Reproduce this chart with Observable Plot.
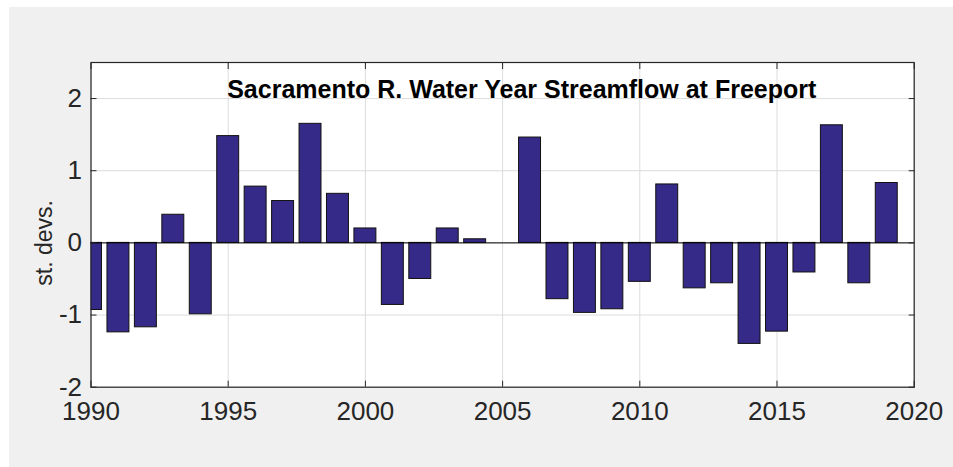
<!DOCTYPE html>
<html><head><meta charset="utf-8">
<script src="https://cdn.jsdelivr.net/npm/d3@7"></script>
<script src="https://cdn.jsdelivr.net/npm/@observablehq/plot@0.6"></script>
<style>
html,body{margin:0;padding:0;background:#fff;}
#bg{position:absolute;left:9px;top:7px;width:944px;height:460px;background:#f0f0f0;}
#chart{position:absolute;left:0;top:0;}
</style></head><body>
<div id="bg"></div><div id="chart"></div>
<script>
const years = [1990,1991,1992,1993,1994,1995,1996,1997,1998,1999,2000,2001,2002,2003,2004,2005,2006,2007,2008,2009,2010,2011,2012,2013,2014,2015,2016,2017,2018,2019];
const values = [-0.93,-1.24,-1.17,0.39,-0.99,1.48,0.78,0.58,1.65,0.68,0.20,-0.86,-0.50,0.20,0.05,0,1.46,-0.78,-0.97,-0.92,-0.54,0.81,-0.63,-0.56,-1.40,-1.23,-0.41,1.63,-0.56,0.83];
const xTicks = [1990,1995,2000,2005,2010,2015,2020];
const yTicks = [-2,-1,0,1,2];
const titleText = "Sacramento R. Water Year Streamflow at Freeport";
const yLabel = "st. devs.";

const data = years.map((y, i) => ({year: y, value: values[i]}));
const half = 0.4;
const fmt = d => String(d);
const empty = () => "";

const chart = Plot.plot({
  width: 953,
  height: 467,
  marginLeft: 90.5,
  marginRight: 39.3,
  marginTop: 62,
  marginBottom: 80.3,
  style: {background: "transparent", fontFamily: "'Liberation Sans', Arial, Helvetica, sans-serif", color: "#262626", overflow: "visible"},
  x: {domain: [1990, 2020]},
  y: {domain: [-2, 2.5]},
  marks: [
    Plot.frame({fill: "white", stroke: null}),
    Plot.gridX(xTicks, {stroke: "#dcdcdc", strokeOpacity: 1}),
    Plot.gridY(yTicks, {stroke: "#dcdcdc", strokeOpacity: 1}),
    Plot.rectY(data, {x1: d => d.year - half, x2: d => d.year + half, y: "value", fill: "#352a87", stroke: "#111", strokeWidth: 1, clip: true}),
    Plot.ruleY([0], {stroke: "#000", strokeWidth: 1}),
    Plot.text([titleText], {x: 1995, y: 2.12, dx: -1, text: d => d, textAnchor: "start", lineAnchor: "middle", fontSize: 25, fontWeight: "bold", fill: "#000"}),
    Plot.axisX(xTicks, {anchor: "bottom", tickSize: 0, tickPadding: 14, fontSize: 26, tickFormat: fmt, label: null}),
    Plot.axisX(xTicks, {anchor: "bottom", tickSize: 6, dy: -6, tickFormat: empty, label: null}),
    Plot.axisX(xTicks, {anchor: "top", tickSize: 6, dy: 6, tickFormat: empty, label: null}),
    Plot.axisY(yTicks, {anchor: "left", tickSize: 0, tickPadding: 9, fontSize: 26, tickFormat: fmt, label: null}),
    Plot.axisY(yTicks, {anchor: "left", tickSize: 6, dx: 6, tickFormat: empty, label: null}),
    Plot.axisY(yTicks, {anchor: "right", tickSize: 6, dx: -6, tickFormat: empty, label: null}),
    Plot.text([yLabel], {y: 0, frameAnchor: "left", dx: -46, rotate: -90, text: d => d, fontSize: 23, textAnchor: "middle", lineAnchor: "middle", fill: "#262626"}),
    Plot.frame({stroke: "#262626", strokeWidth: 1.2})
  ]
});
document.getElementById("chart").appendChild(chart);
</script>
</body></html>
